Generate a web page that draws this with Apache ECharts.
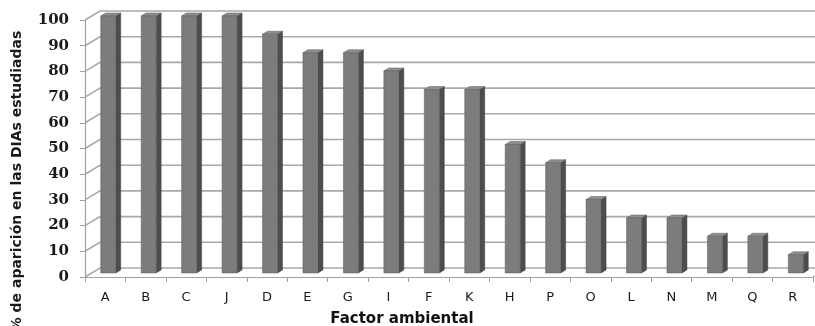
<!DOCTYPE html>
<html>
<head>
<meta charset="utf-8">
<script src="https://cdn.jsdelivr.net/npm/echarts@6/dist/echarts.min.js"></script>
<style>
  html, body { margin: 0; padding: 0; background: #fff; }
  #chart { width: 815px; height: 326px; }
</style>
</head>
<body>
<div id="chart"></div>
<script>
const categories = ['A','B','C','J','D','E','G','I','F','K','H','P','O','L','N','M','Q','R'];
const values = [100,100,100,100,92.9,85.7,85.7,78.6,71.4,71.4,50,42.9,28.6,21.4,21.4,14.3,14.3,7.1];
const yTicks = [0,10,20,30,40,50,60,70,80,90,100];
const xTitle = 'Factor ambiental';
const yTitle = '% de aparición en las DIAs estudiadas';

// 3D styling constants (pixels)
const DX = 15, DY = -9;      // wall depth
const BX = 3, BY = -4;       // bar front-face shift
const BW = 15;               // bar front width
const SX = 5, SY = -3;       // bar side/top depth

const chart = echarts.init(document.getElementById('chart'));

function wallItem(params, api) {
  const v = api.value(1);
  const p = api.coord([0, v]);
  const bw = api.size([1, 0])[0];
  const left = p[0] - bw / 2;
  const right = left + bw * categories.length;
  const y = p[1];
  const children = [{
    type: 'polyline',
    shape: { points: [[left, y], [left + DX, y + DY], [right + DX, y + DY]] },
    style: { stroke: '#a9a9a9', lineWidth: 1.6, fill: null }
  }];
  if (v === 0) {
    children.push({
      type: 'line',
      shape: { x1: right, y1: y, x2: right + DX, y2: y + DY },
      style: { stroke: '#a9a9a9', lineWidth: 1.2 }
    });
  }
  return { type: 'group', children };
}

function barItem(params, api) {
  const i = api.value(0);
  const p = api.coord([i, api.value(1)]);
  const b = api.coord([i, 0]);
  const x0 = p[0] + BX - BW / 2;
  const x1 = x0 + BW;
  const yT = p[1] + BY;
  const yB = b[1] + BY;
  return {
    type: 'group',
    children: [
      { type: 'polygon',
        shape: { points: [[x1, yT], [x1 + SX, yT + SY], [x1 + SX, yB + SY], [x1, yB]] },
        style: { fill: '#4d4d4d', stroke: '#404040', lineWidth: 0.5 } },
      { type: 'polygon',
        shape: { points: [[x0, yT], [x0 + SX, yT + SY], [x1 + SX, yT + SY], [x1, yT]] },
        style: { fill: '#8f8f8f', stroke: '#5a5a5a', lineWidth: 0.5 } },
      { type: 'rect',
        shape: { x: x0, y: yT, width: BW, height: yB - yT },
        style: { fill: '#7c7c7c', stroke: '#5f5f5f', lineWidth: 0.5 } }
    ]
  };
}

const option = {
  animation: false,
  backgroundColor: '#ffffff',
  grid: { left: 85, right: 2, top: 20, bottom: 49, containLabel: false },
  xAxis: {
    type: 'category',
    data: categories,
    axisLine: { show: true, lineStyle: { color: '#a0a0a0', width: 1.2 } },
    axisTick: { show: true, interval: 0, length: 5, lineStyle: { color: '#a0a0a0' } },
    axisLabel: { interval: 0, margin: 14, color: '#1a1a1a', fontFamily: 'DejaVu Sans', fontSize: 13 },
    splitLine: { show: false }
  },
  yAxis: {
    type: 'value',
    min: 0, max: 100, interval: 10,
    axisLine: { show: true, lineStyle: { color: '#a0a0a0', width: 1.2 } },
    axisTick: { show: true, length: 5, lineStyle: { color: '#a0a0a0' } },
    axisLabel: { margin: 16, color: '#1a1a1a', fontFamily: 'DejaVu Serif', fontWeight: 'bold', fontSize: 15 },
    splitLine: { show: false }
  },
  graphic: [
    { type: 'text', x: 402, y: 319, style: { text: xTitle, align: 'center', verticalAlign: 'middle',
      fontFamily: 'DejaVu Sans', fontWeight: 'bold', fontSize: 15, fill: '#111' } },
    { type: 'text', x: 17, y: 181, rotation: Math.PI / 2, style: { text: yTitle, align: 'center', verticalAlign: 'middle',
      fontFamily: 'DejaVu Sans', fontWeight: 'bold', fontSize: 14, fill: '#1a1a1a' } }
  ],
  series: [
    { type: 'custom', name: 'walls', renderItem: wallItem, clip: false, z: 1,
      data: yTicks.map(v => [0, v]), silent: true },
    { type: 'custom', name: 'bars', renderItem: barItem, clip: false, z: 5,
      data: values.map((v, i) => [i, v]) }
  ]
};
chart.setOption(option);
</script>
</body>
</html>
